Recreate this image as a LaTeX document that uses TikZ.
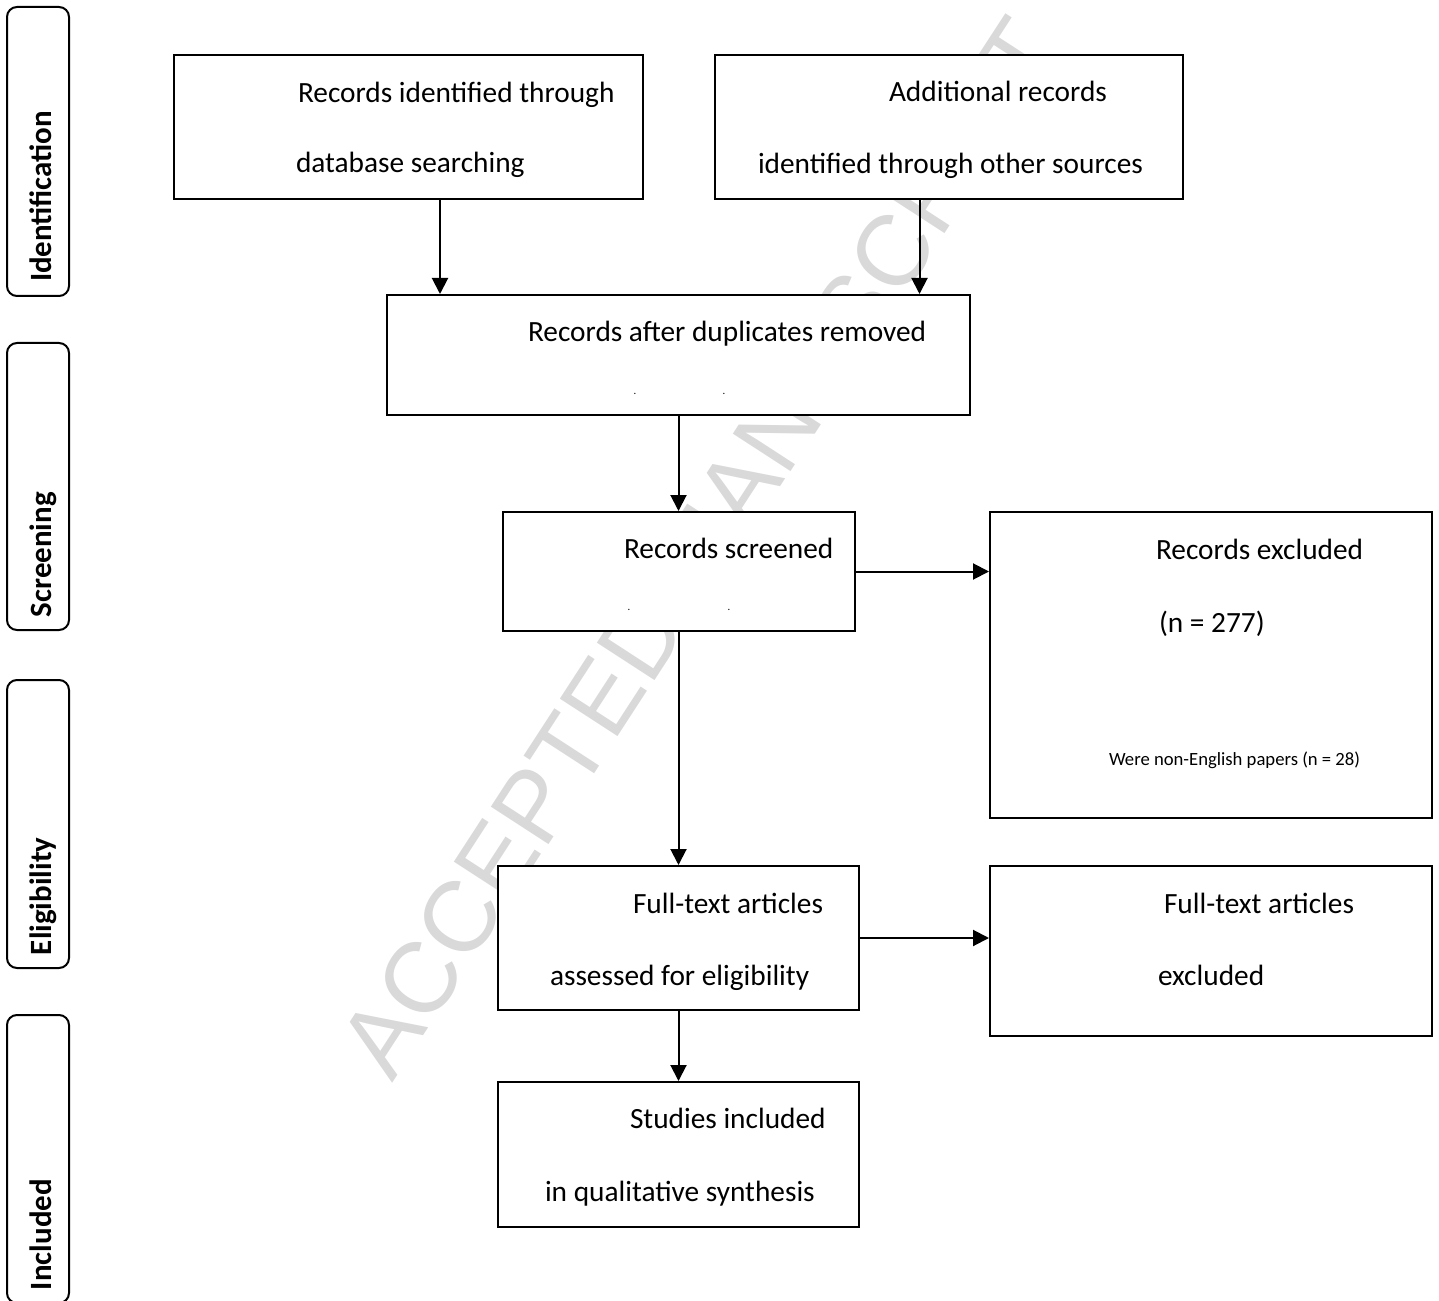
\documentclass[tikz,border=0pt]{standalone}
\usepackage{fontspec}
\setmainfont{Carlito}
\newfontfamily\stampfont{Liberation Sans}
\usetikzlibrary{arrows.meta,positioning}

\tikzset{
  box/.style 2 args={draw,fill=white,inner sep=0pt,
    minimum width=#1*0.375pt,minimum height=#2*0.375pt},
  stagebox/.style={draw,rounded corners=3.75pt,inner sep=0pt,
    minimum width=62*0.375pt,minimum height=#1*0.375pt},
  stagelabel/.style={rotate=90,anchor=base west,inner sep=0pt,
    font=\bfseries\fontsize{11.6}{13}\selectfont},
  txt/.style={anchor=base west,inner sep=0pt,font=\fontsize{11}{13}\selectfont},
  smalltxt/.style={anchor=base west,inner sep=0pt,font=\fontsize{7}{8}\selectfont},
  speck/.style={anchor=base,inner sep=0pt,font=\fontsize{4}{4}\selectfont},
  stamp/.style={rotate=57,inner sep=0pt,text=black!15,
    font=\stampfont\fontsize{37.5}{40}\selectfont}
}

\begin{document}
\begin{tikzpicture}[x=0.375pt,y=-0.375pt,line width=0.75pt,
    >={Triangle[length=6pt,width=6pt]}]
    \useasboundingbox (0,0) rectangle (1439,1301);
    \node[stamp] (wm) at (700,548) {ACCEPTED MANUSCRIPT};

    % stages on the left
    \node[stagebox=289] (st_id)  at (38,151.5) {};
    \node[stagebox=287] (st_scr) at (38,486.5) {};
    \node[stagebox=288] (st_el)  at (38,824)   {};
    \node[stagebox=288] (st_in)  at (38,1159)  {};
    \node[stagelabel] (lb_id)  at ([shift={(13,-14)}]st_id.south)  {Identification};
    \node[stagelabel] (lb_scr) at ([shift={(13,-13)}]st_scr.south) {Screening};
    \node[stagelabel] (lb_el)  at ([shift={(13,-13)}]st_el.south)  {Eligibility};
    \node[stagelabel] (lb_in)  at ([shift={(13,-13)}]st_in.south)  {Included};

    % boxes
    \node[box={469}{144}] (rec_db)    at (408.5,127)   {};
    \node[box={468}{144}] (rec_other) at (949,127)     {};
    \node[box={583}{120}] (rec_dup)   at (678.5,355)   {};
    \node[box={352}{119}] (rec_scr)   at (678.5,571.5) {};
    \node[box={442}{306}] (rec_exc)   at (1211,665)    {};
    \node[box={361}{144}] (ft_ass)    at (678.5,938)   {};
    \node[box={442}{170}] (ft_exc)    at (1211,951)    {};
    \node[box={361}{145}] (st_inc)    at (678.5,1154.5) {};

    % box texts
    \node[txt] (rec_db_1)    at (297,103)  {Records identified through};
    \node[txt] (rec_db_2)    at (295,173)  {database searching};
    \node[txt] (rec_other_1) at (888,102)  {Additional records};
    \node[txt] (rec_other_2) at (757,174)  {identified through other sources};
    \node[txt] (rec_dup_1)   at (527,342)  {Records after duplicates removed};
    \node[speck] (rec_dup_a) at (635,395)  {.};
    \node[speck] (rec_dup_b) at (724,395)  {.};
    \node[txt] (rec_scr_1)   at (623,558)  {Records screened};
    \node[speck] (rec_scr_a) at (629,610)  {.};
    \node[speck] (rec_scr_b) at (729,610)  {.};
    \node[txt] (rec_exc_1)   at (1155,559) {Records excluded};
    \node[txt] (rec_exc_2)   at (1158,632) {(n = 277)};
    \node[smalltxt] (rec_exc_3) at (1108,765) {Were non-English papers (n = 28)};
    \node[txt] (ft_ass_1)    at (632,913)  {Full-text articles};
    \node[txt] (ft_ass_2)    at (549,985)  {assessed for eligibility};
    \node[txt] (ft_exc_1)    at (1163,913) {Full-text articles};
    \node[txt] (ft_exc_2)    at (1157,985) {excluded};
    \node[txt] (st_inc_1)    at (629,1128) {Studies included};
    \node[txt] (st_inc_2)    at (544,1201) {in qualitative synthesis};

    \coordinate (db_out)    at ([shift={(31.5,0)}]rec_db.south);
    \coordinate (other_out) at ([shift={(-29.5,0)}]rec_other.south);
    \path[->]
    % into the merged records
    (db_out)    edge (db_out |- rec_dup.north)
    (other_out) edge (other_out |- rec_dup.north)
    % down the middle
    (rec_dup.south) edge (rec_scr.north)
    (rec_scr.south) edge (ft_ass.north)
    (ft_ass.south)  edge (st_inc.north)
    % exclusions
    (rec_scr.east) edge (rec_scr.east -| rec_exc.west)
    (ft_ass.east)  edge (ft_ass.east -| ft_exc.west);
\end{tikzpicture}
\end{document}
